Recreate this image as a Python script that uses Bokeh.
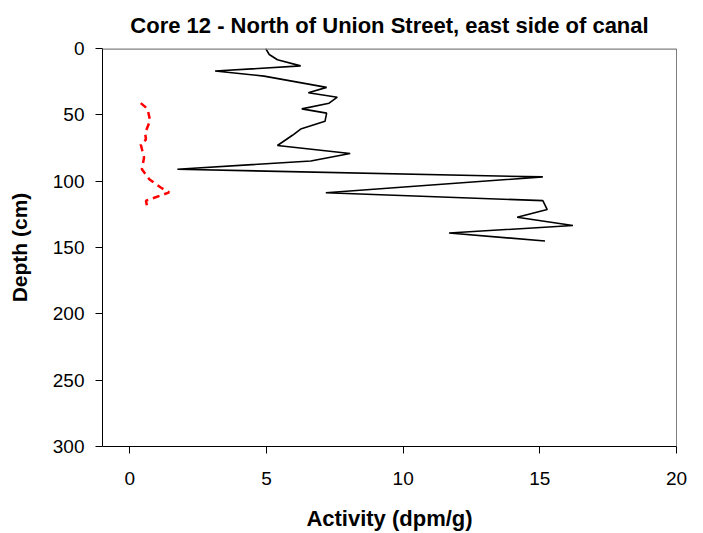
from bokeh.plotting import figure
from bokeh.models import Range1d, FixedTicker, Span
from bokeh.embed import file_html
from bokeh.resources import INLINE

# Black series (solid)
black_activity = [4.97, 5.1, 5.4, 6.25, 3.12, 4.91, 7.2, 6.53, 7.59, 7.29, 6.29, 7.2, 7.14,
                  6.25, 5.95, 5.4, 8.06, 6.62, 1.74, 15.11, 7.17, 15.11, 15.27, 14.17,
                  16.21, 11.68, 15.19]
black_depth = [0, 4.5, 8.5, 13.1, 17.0, 20.8, 29.3, 33.3, 36.7, 41.2, 45.5, 48.7, 54.9,
               60.7, 65.4, 73.1, 79.1, 84.8, 91.0, 96.8, 108.7, 114.7, 121.4, 127.2,
               133.4, 139.1, 145.1]

# Red series (dashed)
red_activity = [0.40, 0.65, 0.74, 0.56, 0.59, 0.40, 0.52, 0.44, 0.71, 1.13, 1.44, 0.59, 0.65]
red_depth = [41.2, 45.5, 54.4, 63.7, 68.6, 72.4, 82.3, 91.0, 98.5, 104.8, 108.5, 114.7, 121.0]

x_ticks = [0, 5, 10, 15, 20]
y_ticks = [0, 50, 100, 150, 200, 250, 300]

FONT = "Liberation Sans"

p = figure(width=703, height=533, output_backend="svg", toolbar_location=None,
           x_range=Range1d(-1, 20), y_range=Range1d(300, 0),
           min_border_left=102, min_border_right=27, min_border_top=47,
           min_border_bottom=83,
           title="Core 12 - North of Union Street, east side of canal")
p.outline_line_color = None
p.grid.visible = False
p.background_fill_color = "white"
p.border_fill_color = "white"

p.title.align = "center"
p.title.text_font = FONT
p.title.text_font_size = "22px"
p.title.text_font_style = "bold"
p.title.text_color = "black"
p.title.standoff = 21

for ax, ticks in ((p.xaxis[0], x_ticks), (p.yaxis[0], y_ticks)):
    ax.ticker = FixedTicker(ticks=ticks)
    ax.major_tick_out = 7
    ax.major_tick_in = 0
    ax.minor_tick_line_color = None
    ax.axis_line_color = "black"
    ax.major_tick_line_color = "black"
    ax.major_label_text_font = FONT
    ax.major_label_text_font_size = "19px"
    ax.major_label_text_color = "black"
    ax.axis_label_text_font = FONT
    ax.axis_label_text_font_style = "bold"
    ax.axis_label_text_color = "black"

p.xaxis.axis_label = "Activity (dpm/g)"
p.xaxis.axis_label_text_font_size = "22px"
p.xaxis.major_label_standoff = 18
p.xaxis.axis_label_standoff = 18
p.yaxis.axis_label = "Depth (cm)"
p.yaxis.axis_label_text_font_size = "21px"
p.yaxis.major_label_standoff = 11
p.yaxis.axis_label_standoff = 19

p.add_layout(Span(location=0, dimension="width", line_color="#808080", line_width=2.5))
p.add_layout(Span(location=20, dimension="height", line_color="black", line_width=1))

p.line(black_activity, black_depth, line_color="black", line_width=1.6)
p.line(red_activity, red_depth, line_color="red", line_width=2.5, line_dash="7 5")

open("out.html", "w").write(file_html(p, INLINE))
